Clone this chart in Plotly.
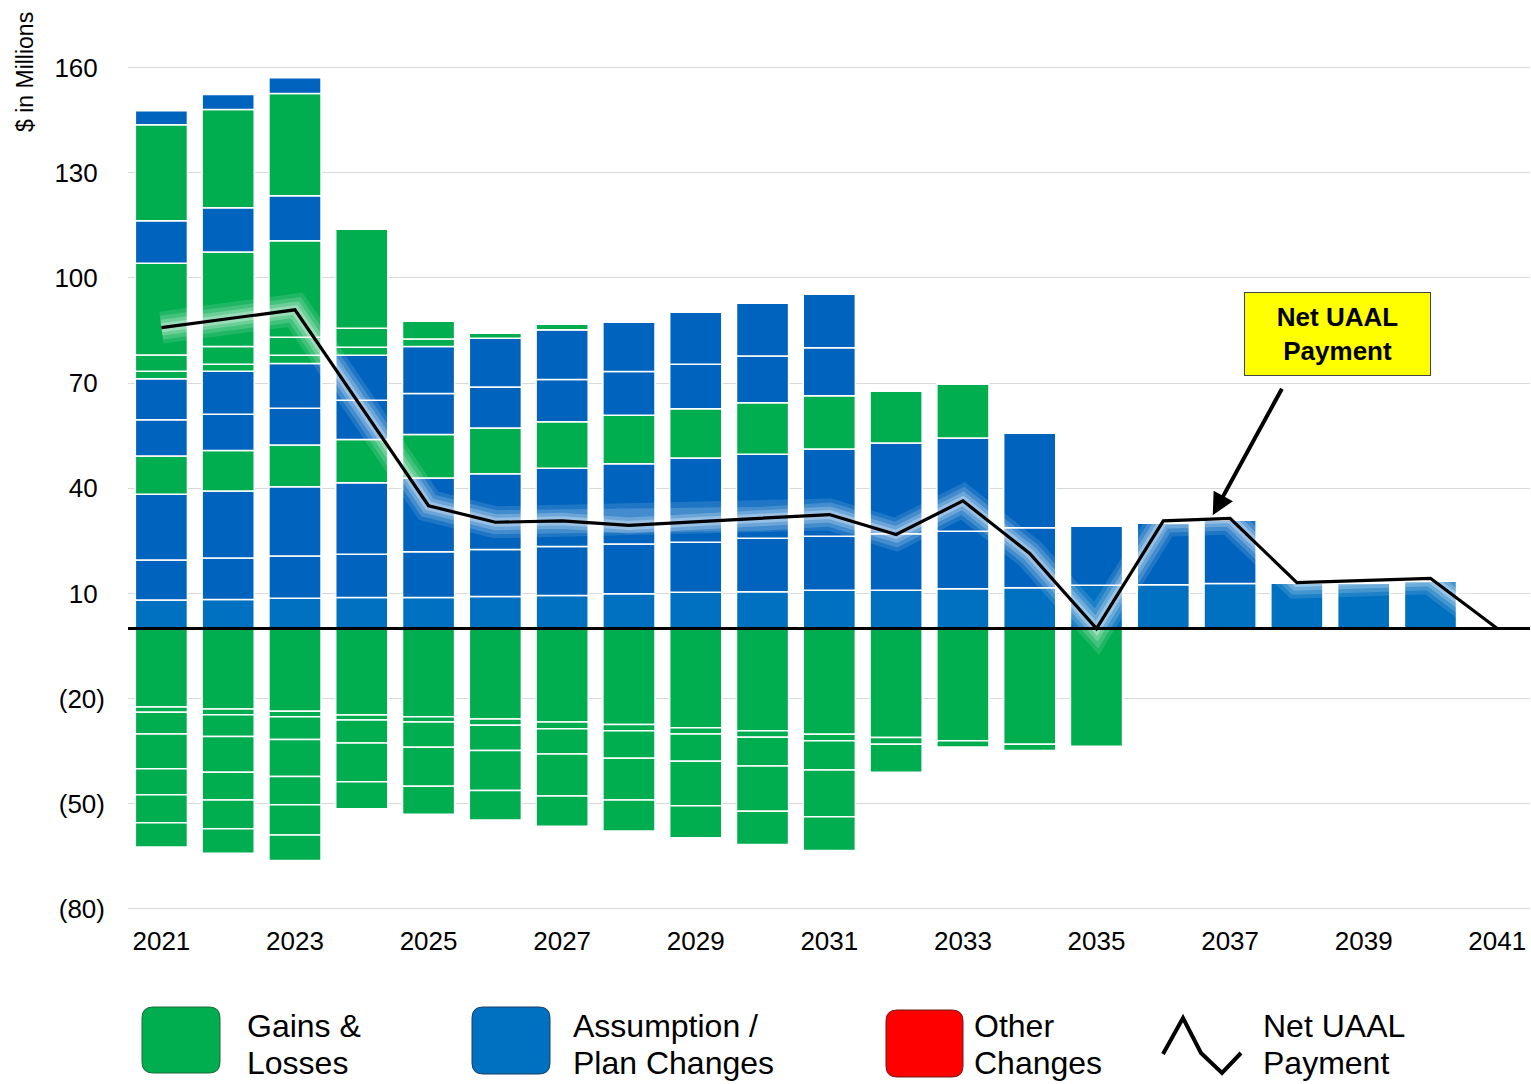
import plotly.graph_objects as go

# ---------------- data ----------------
years = list(range(2021, 2041))
line_years = list(range(2021, 2042))

# positive layers, bottom to top (amortization bases)
L1 = [8.1, 8.3, 8.6, 8.8, 8.8, 9.1, 9.4, 9.9, 10.3, 10.5, 10.9, 10.9, 11.3, 11.6, 12.3, 12.5, 12.8, 12.9, 13.0, 13.6]
L2 = [11.4, 11.8, 12.1, 12.4, 13.1, 13.4, 14.0, 14.2, 14.3, 15.2, 15.4, 16.1, 16.4, 17.1, 16.9, 17.7, 18.1, 0, 0, 0]
L3 = [18.8, 19.1, 19.7, 20.4, 21.0, 21.6, 22.3, 22.9, 24.0, 24.0, 24.9, 25.9, 26.6, 27.2, 0, 0, 0, 0, 0, 0]
L4 = [10.9, 11.6, 11.9, 12.3, 12.4, 13.1, 13.3, 13.8, 14.1, 14.7, 15.2, 15.0, 15.4, 0, 0, 0, 0, 0, 0, 0]
L5 = [10.3, 10.3, 10.5, 11.2, 11.7, 11.7, 12.0, 12.5, 12.7, 13.3, 13.7, 0, 0, 0, 0, 0, 0, 0, 0, 0]
L6 = [11.7, 12.3, 12.8, 12.8, 13.4, 13.9, 14.2, 14.2, 14.9, 15.2, 15.4, 0, 0, 0, 0, 0, 0, 0, 0, 0]
L7 = [2.2, 2.0, 2.3, 2.3, 2.2, 0, 0, 0, 0, 0, 0, 0, 0, 0, 0, 0, 0, 0, 0, 0]
L8 = [4.6, 5.0, 5.2, 5.4, 5.2, 1.5, 1.6, 0, 0, 0, 0, 0, 0, 0, 0, 0, 0, 0, 0, 0]
L9 = [26.2, 27.0, 27.5, 28.4, 0, 0, 0, 0, 0, 0, 0, 0, 0, 0, 0, 0, 0, 0, 0, 0]
L10 = [12.1, 12.6, 12.8, 0, 0, 0, 0, 0, 0, 0, 0, 0, 0, 0, 0, 0, 0, 0, 0, 0]
L11 = [27.4, 28.0, 29.2, 0, 0, 0, 0, 0, 0, 0, 0, 0, 0, 0, 0, 0, 0, 0, 0, 0]
L12 = [4.0, 4.3, 4.5, 0, 0, 0, 0, 0, 0, 0, 0, 0, 0, 0, 0, 0, 0, 0, 0, 0]

# negative layers (gains), from zero downward
N1 = [-22.4, -23.0, -23.6, -24.7, -25.2, -25.8, -26.7, -27.4, -28.3, -29.2, -30.2, -31.1, -32.0, -33.0, -33.6, 0, 0, 0, 0, 0]
N2 = [-1.5, -1.6, -1.6, -1.4, -1.5, -1.8, -1.9, -1.8, -1.8, -1.8, -1.8, -1.9, -1.8, -1.8, 0, 0, 0, 0, 0, 0]
N3 = [-6.2, -6.2, -6.5, -6.6, -7.2, -7.2, -7.2, -7.8, -7.8, -8.2, -8.4, -8.0, 0, 0, 0, 0, 0, 0, 0, 0]
N4 = [-9.9, -10.2, -10.5, -11.0, -11.1, -11.4, -12.0, -11.9, -12.7, -12.9, -13.3, 0, 0, 0, 0, 0, 0, 0, 0, 0]
N5 = [-7.4, -7.9, -8.1, -7.7, -8.0, -8.4, -8.6, -8.9, -9.1, -9.5, -9.6, 0, 0, 0, 0, 0, 0, 0, 0, 0]
N6 = [-8.0, -8.2, -8.6, 0, 0, 0, 0, 0, 0, 0, 0, 0, 0, 0, 0, 0, 0, 0, 0, 0]
N7 = [-6.9, -7.0, -7.3, 0, 0, 0, 0, 0, 0, 0, 0, 0, 0, 0, 0, 0, 0, 0, 0, 0]

net_uaal = [85.8, 88.3, 90.9, 63.0, 35.0, 30.3, 30.7, 29.4, 30.4, 31.3, 32.5, 26.8, 36.4, 21.4, 0.0,
            30.7, 31.4, 13.1, 13.7, 14.3, 0.0]

y_tickvals = [-80, -50, -20, 10, 40, 70, 100, 130, 160]
y_ticktext = ["(80)", "(50)", "(20)", "10\u2008", "40\u2008", "70\u2008", "100\u2008", "130\u2008", "160\u2008"]
x_tickvals = list(range(2021, 2042, 2))

legend_labels = [("Gains &", "Losses"), ("Assumption /", "Plan Changes"),
                 ("Other", "Changes"), ("Net UAAL", "Payment")]

GREEN = "#00AE4F"
BLUE = "#0063BD"
BLUE_LIGHT = "#0070C0"
RED = "#FF0000"
FONT = "Arial, Liberation Sans, sans-serif"

pos_layers = [(L1, BLUE_LIGHT), (L2, BLUE), (L3, BLUE), (L4, GREEN), (L5, BLUE), (L6, BLUE),
              (L7, GREEN), (L8, GREEN), (L9, GREEN), (L10, BLUE), (L11, GREEN), (L12, BLUE)]
neg_layers = [N1, N2, N3, N4, N5, N6, N7]

fig = go.Figure()
for vals, col in pos_layers:
    fig.add_trace(go.Bar(x=years, y=vals, marker=dict(color=col, line=dict(color="white", width=1.5)),
                         width=0.78, showlegend=False, hoverinfo="skip"))
for vals in neg_layers:
    fig.add_trace(go.Bar(x=years, y=vals, marker=dict(color=GREEN, line=dict(color="white", width=1.5)),
                         width=0.78, showlegend=False, hoverinfo="skip"))

# soft glow around the line
for w, a in [(32, 0.12), (24, 0.16), (16, 0.22), (9, 0.3)]:
    fig.add_trace(go.Scatter(x=line_years, y=net_uaal, mode="lines",
                             line=dict(color=f"rgba(255,255,255,{a})", width=w),
                             showlegend=False, hoverinfo="skip"))
fig.add_trace(go.Scatter(x=line_years, y=net_uaal, mode="lines",
                         line=dict(color="black", width=3.2), showlegend=False))

W, H = 1531, 1084
ML, MR, MT, MB = 128, 1, 50, 174
PW, PH = W - ML - MR, H - MT - MB


def px(x):
    return (x - ML) / PW


def py(y):
    return (MT + PH - y) / PH


def rrect(x0, y0, x1, y1, r):
    rx, ry = r / PW, r / PH
    X0, X1 = px(x0), px(x1)
    Yt, Yb = py(y0), py(y1)
    return (f"M {X0+rx},{Yt} L {X1-rx},{Yt} Q {X1},{Yt} {X1},{Yt-ry} "
            f"L {X1},{Yb+ry} Q {X1},{Yb} {X1-rx},{Yb} L {X0+rx},{Yb} "
            f"Q {X0},{Yb} {X0},{Yb+ry} L {X0},{Yt-ry} Q {X0},{Yt} {X0+rx},{Yt} Z")


shapes = [
    dict(type="line", xref="paper", x0=0, x1=1, yref="y", y0=0, y1=0,
         line=dict(color="black", width=3), layer="above"),
    dict(type="path", xref="paper", yref="paper", path=rrect(142, 1007, 220, 1073, 11),
         fillcolor=GREEN, line=dict(color="#1a6b3a", width=1)),
    dict(type="path", xref="paper", yref="paper", path=rrect(472, 1007, 550, 1074, 11),
         fillcolor=BLUE_LIGHT, line=dict(color="#1d3f66", width=1)),
    dict(type="path", xref="paper", yref="paper", path=rrect(886, 1010, 963, 1077, 11),
         fillcolor=RED, line=dict(color="#6b1a1a", width=1)),
    dict(type="path", xref="paper", yref="paper",
         path=(f"M {px(1163)},{py(1054)} L {px(1183)},{py(1018)} L {px(1201)},{py(1053)} "
               f"L {px(1222)},{py(1073)} L {px(1241)},{py(1053)}"),
         line=dict(color="black", width=4)),
]

annotations = [
    dict(xref="paper", yref="paper", x=px(25), y=py(72), xanchor="center", yanchor="middle",
         text="$ in Millions", textangle=-90,
         showarrow=False, font=dict(size=23, color="black", family=FONT)),
    dict(xref="paper", yref="paper", x=px(1337), y=py(334), xanchor="center", yanchor="middle",
         text="<b>Net UAAL<br>Payment</b>", showarrow=False, bgcolor="#FFFF00",
         bordercolor="#444444", borderwidth=1, width=183, height=80,
         font=dict(size=26, color="black", family=FONT)),
    dict(x=2036.74, y=32.3, xref="x", yref="y", ax=70, ay=-128, axref="pixel", ayref="pixel",
         text="", showarrow=True, arrowhead=2, arrowsize=1.1, arrowwidth=4, arrowcolor="black"),
]
for x0, (l1, l2) in zip([245, 571, 972, 1261], legend_labels):
    for yc, txt in [(1026, l1), (1063, l2)]:
        annotations.append(dict(xref="paper", yref="paper", x=px(x0), y=py(yc), xanchor="left",
                                yanchor="middle", align="left", text=txt, showarrow=False,
                                font=dict(size=32, color="black", family=FONT)))

fig.update_layout(
    width=W, height=H,
    margin=dict(l=ML, r=MR, t=MT, b=MB),
    barmode="relative", bargap=0.2,
    plot_bgcolor="white", paper_bgcolor="white",
    font=dict(family=FONT, color="black"),
    showlegend=False,
    shapes=shapes, annotations=annotations,
    xaxis=dict(range=[2020.5, 2041.49], tickvals=x_tickvals, showgrid=False, zeroline=False,
               showline=False, ticks="", tickfont=dict(size=26), ticklabelstandoff=13),
    yaxis=dict(range=[-80.3, 165], tickvals=y_tickvals, ticktext=y_ticktext, showgrid=True,
               gridcolor="#D9D9D9", gridwidth=1.3, zeroline=False, showline=False, ticks="",
               tickfont=dict(size=26), ticklabelstandoff=22),
)

fig.write_html("out.html", config={"displayModeBar": False},
               post_script="document.body.style.margin='0';document.body.style.overflow='hidden';")
